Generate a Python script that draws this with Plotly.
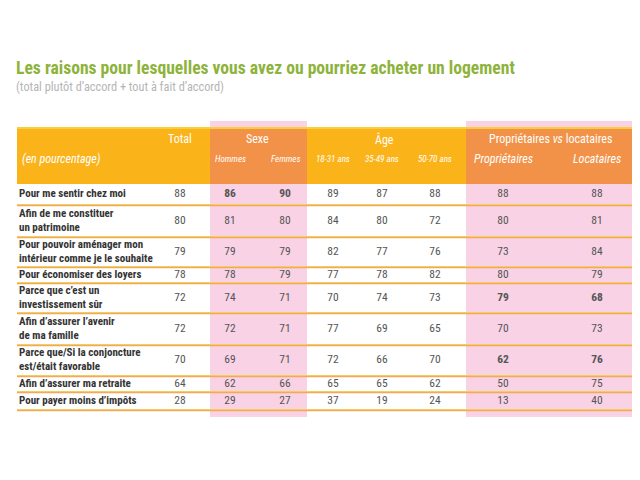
import plotly.graph_objects as go

# ---------------- data ----------------
reasons = [
    "Pour me sentir chez moi",
    "Afin de me constituer<br>un patrimoine",
    "Pour pouvoir aménager mon<br>intérieur comme je le souhaite",
    "Pour économiser des loyers",
    "Parce que c’est un<br>investissement sûr",
    "Afin d’assurer l’avenir<br>de ma famille",
    "Parce que/Si la conjoncture<br>est/était favorable",
    "Afin d’assurer ma retraite",
    "Pour payer moins d’impôts",
]
columns = ["Total", "Hommes", "Femmes", "18-31 ans", "35-49 ans", "50-70 ans",
           "Propriétaires", "Locataires"]
total = [88, 80, 79, 78, 72, 72, 70, 64, 28]
hommes = [86, 81, 79, 78, 74, 72, 69, 62, 29]
femmes = [90, 80, 79, 79, 71, 71, 71, 66, 27]
age_18_31 = [89, 84, 82, 77, 70, 77, 72, 65, 37]
age_35_49 = [87, 80, 77, 78, 74, 69, 66, 65, 19]
age_50_70 = [88, 72, 76, 82, 73, 65, 70, 62, 24]
proprietaires = [88, 80, 73, 80, 79, 70, 62, 50, 13]
locataires = [88, 81, 84, 79, 68, 73, 76, 75, 40]
series = [total, hommes, femmes, age_18_31, age_35_49, age_50_70, proprietaires, locataires]
groups = ["Sexe", "Âge", "Propriétaires <i>vs</i> locataires"]

# significant differences shown in bold (row index, column index)
emphasis = {(0, 1), (0, 2), (4, 6), (4, 7), (6, 6), (6, 7)}

# ---------------- layout (page pixel space) ----------------
PAD = 8  # default page margin around the plot div
W, H = 640, 480
col_x = [180, 230, 285, 333, 382, 435, 503, 597]
group_cols = [(1, 2), (3, 5), (6, 7)]
group_span = [(210, 307), None, (466, 633)]   # highlighted (pink) groups
table_left, table_right = 17, 633
header_top, header_bot = 128, 184
row_h = [21, 32, 30, 16, 30, 32, 31, 16, 18]

ORANGE = "#FBB31A"
ORANGE_DK = "#F29248"
PINK = "#F9D2E5"
GREEN = "#8DB33B"
LINE_Y = "#F1CF5E"
LINE_O = "#F4A95A"
TXT = "#333333"
NUM = "#555555"
COND = "Liberation Sans Narrow, Arial Narrow, Roboto Condensed, Liberation Sans, sans-serif"

bounds = [header_bot]
for h in row_h:
    bounds.append(bounds[-1] + h)
row_y = [(bounds[i] + bounds[i + 1]) / 2 for i in range(len(reasons))]

shapes = []
for span in group_span:
    if span:
        shapes.append(dict(type="rect", x0=span[0], x1=span[1], y0=121, y1=bounds[-1] + 7,
                           fillcolor=PINK, line_width=0, layer="below"))
shapes.append(dict(type="rect", x0=table_left, x1=table_right, y0=header_top, y1=header_bot,
                   fillcolor=ORANGE, line_width=0, layer="below"))
for span in group_span:
    if span:
        shapes.append(dict(type="rect", x0=span[0], x1=span[1], y0=header_top, y1=header_bot,
                           fillcolor=ORANGE_DK, line_width=0, layer="below"))
shapes.append(dict(type="line", x0=table_left, x1=table_right, y0=header_top, y1=header_top,
                   line=dict(color="#F7CF3A", width=2)))
for b in bounds[1:]:
    shapes.append(dict(type="line", x0=table_left, x1=table_right, y0=b - 0.5, y1=b - 0.5,
                       line=dict(color=LINE_Y, width=1.2)))
    shapes.append(dict(type="line", x0=table_left, x1=table_right, y0=b + 0.7, y1=b + 0.7,
                       line=dict(color=LINE_O, width=1.2)))

fig = go.Figure()

fig.add_trace(go.Scatter(
    x=[19] * len(reasons), y=row_y, mode="text",
    text=[f"<b>{r}</b>" for r in reasons], textposition="middle right",
    textfont=dict(family=COND, size=11, color=TXT), hoverinfo="skip", showlegend=False))

xs, ys, ts = [], [], []
for ci, vals in enumerate(series):
    for ri, v in enumerate(vals):
        xs.append(col_x[ci])
        ys.append(row_y[ri])
        ts.append(f"<b>{v}</b>" if (ri, ci) in emphasis else str(v))
fig.add_trace(go.Scatter(
    x=xs, y=ys, mode="text", text=ts, textposition="middle center",
    textfont=dict(family=COND, size=11.5, color=NUM), hoverinfo="skip", showlegend=False))

annotations = []
def ann(x, y, text, size, color="white", xanchor="center", family=COND):
    annotations.append(dict(x=x, y=y, xref="x", yref="y", text=text, showarrow=False,
                            xanchor=xanchor, yanchor="middle",
                            font=dict(family=family, size=size, color=color)))

ann(col_x[0], 139, columns[0], 12)
for g, (a, b) in zip(groups, group_cols):
    ann((col_x[a] + col_x[b]) / 2, 139, g, 12)
ann(20, 159, "<i>(en pourcentage)</i>", 12, xanchor="left")
for ci in range(1, 6):
    ann(col_x[ci], 159, f"<i>{columns[ci]}</i>", 9)
for ci in range(6, 8):
    ann(col_x[ci], 159, f"<i>{columns[ci]}</i>", 12)

ann(14, 68, "<b>Les raisons pour lesquelles vous avez ou pourriez acheter un logement</b>",
    17.6, color=GREEN, xanchor="left")
ann(14, 87, "(total plutôt d’accord + tout à fait d’accord)", 12.3, color="#B5B5B5",
    xanchor="left")

fig.update_layout(
    width=W - 2 * PAD, height=H - 2 * PAD, margin=dict(l=0, r=0, t=0, b=0),
    paper_bgcolor="white", plot_bgcolor="white",
    xaxis=dict(range=[PAD, W - PAD], visible=False, fixedrange=True),
    yaxis=dict(range=[H - PAD, PAD], visible=False, fixedrange=True),
    shapes=shapes, annotations=annotations, showlegend=False,
)
fig.write_html("out.html")
